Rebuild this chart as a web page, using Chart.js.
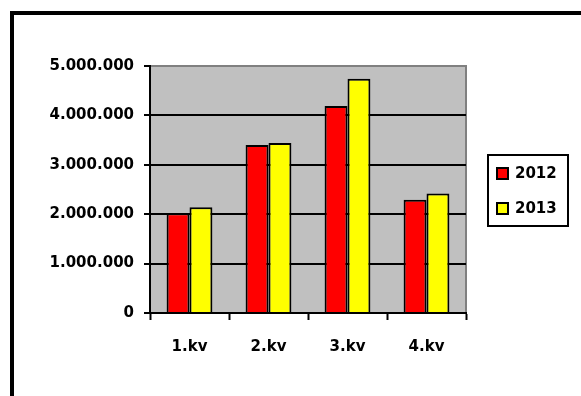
<!DOCTYPE html>
<html>
<head>
<meta charset="utf-8">
<script src="https://cdn.jsdelivr.net/npm/chart.js@4/dist/chart.umd.min.js"></script>
<style>
  html, body { margin: 0; padding: 0; background: #fff; }
  #wrap { position: relative; width: 581px; height: 396px; }
</style>
</head>
<body>
<div id="wrap"><canvas id="grafico" width="581" height="396"></canvas></div>
<script>
// datos del grafico
const kvartali = ["1.kv", "2.kv", "3.kv", "4.kv"];
const godine = ["2012", "2013"];
const vrijednosti2012 = [2020000, 3400000, 4190000, 2290000];
const vrijednosti2013 = [2140000, 3440000, 4740000, 2420000];
const boje = ["#FF0000", "#FFFF00"];

const font = { family: "DejaVu Sans", weight: "bold", size: 15 };

// fondo gris del area, borde del marco y leyenda con recuadro
const marcoPlugin = {
  id: "marco",
  beforeDraw(chart) {
    const { ctx, chartArea: a } = chart;
    ctx.save();
    ctx.fillStyle = "#fff";
    ctx.fillRect(0, 0, chart.width, chart.height);
    ctx.fillStyle = "#C0C0C0";
    ctx.fillRect(a.left, a.top, a.right - a.left, a.bottom - a.top);
    ctx.strokeStyle = "#808080";
    ctx.lineWidth = 2;
    ctx.beginPath();
    ctx.moveTo(a.left, a.top);
    ctx.lineTo(a.right, a.top);
    ctx.lineTo(a.right, a.bottom);
    ctx.stroke();
    // marco exterior
    ctx.strokeStyle = "#000";
    ctx.lineWidth = 4;
    ctx.beginPath();
    ctx.moveTo(12, 396);
    ctx.lineTo(12, 13);
    ctx.lineTo(581, 13);
    ctx.stroke();
    ctx.restore();
  },
  afterDraw(chart) {
    const { ctx } = chart;
    ctx.save();
    ctx.strokeStyle = "#000";
    ctx.lineWidth = 2;
    ctx.strokeRect(488, 155, 80, 71);
    ctx.font = "bold 15px 'DejaVu Sans'";
    ctx.textBaseline = "middle";
    chart.data.datasets.forEach((ds, i) => {
      const y = 174 + i * 35;
      ctx.fillStyle = ds.backgroundColor;
      ctx.fillRect(497, y - 6, 11, 11);
      ctx.strokeRect(497, y - 6, 11, 11);
      ctx.fillStyle = "#000";
      ctx.fillText(ds.label, 515, y);
    });
    ctx.restore();
  }
};

new Chart(document.getElementById("grafico").getContext("2d"), {
  type: "bar",
  data: {
    labels: kvartali,
    datasets: [
      { label: godine[0], data: vrijednosti2012, backgroundColor: boje[0] },
      { label: godine[1], data: vrijednosti2013, backgroundColor: boje[1] }
    ]
  },
  options: {
    responsive: false,
    animation: false,
    layout: { padding: { left: 0, top: 66, right: 115, bottom: 0 } },
    datasets: {
      bar: {
        borderColor: "#000",
        borderWidth: 2,
        categoryPercentage: 0.58,
        barPercentage: 1
      }
    },
    plugins: { legend: { display: false }, tooltip: { enabled: false } },
    scales: {
      x: {
        afterFit(scale) { scale.height = 83; },
        grid: {
          offset: true,
          drawOnChartArea: false,
          drawTicks: true,
          tickLength: 7,
          tickColor: "#000",
          tickWidth: 2
        },
        border: { color: "#000", width: 2 },
        ticks: { color: "#000", font: font, padding: 18 }
      },
      y: {
        min: 0,
        max: 5000000,
        afterFit(scale) { scale.width = 150; },
        grid: {
          color: ctx => (ctx.tick && ctx.tick.value === 5000000 ? "#808080" : "#000"),
          lineWidth: 2,
          tickLength: 6,
          tickColor: "#000",
          tickWidth: 2
        },
        border: { color: "#000", width: 2 },
        ticks: {
          stepSize: 1000000,
          color: "#000",
          font: font,
          padding: 10,
          callback: v => v.toLocaleString("de-DE")
        }
      }
    }
  },
  plugins: [marcoPlugin]
});
</script>
</body>
</html>
